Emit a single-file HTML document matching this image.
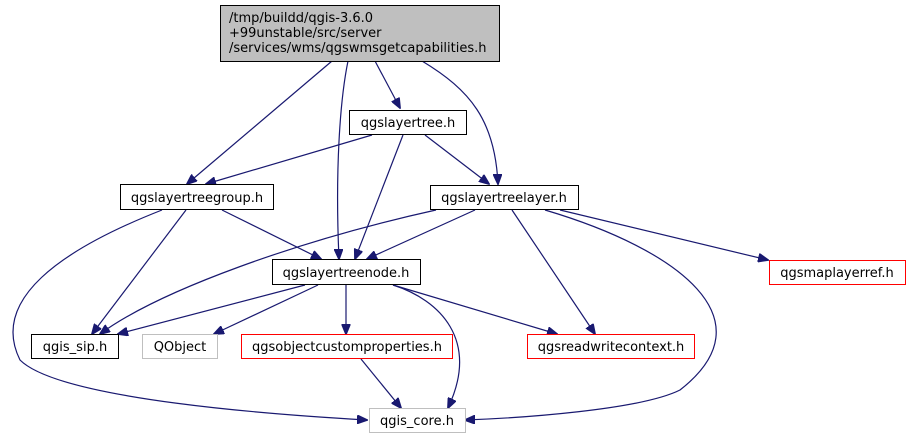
<!DOCTYPE html>
<html><head><meta charset="utf-8"><style>
html,body{margin:0;padding:0;background:#fff;width:911px;height:440px;overflow:hidden}
text{font-family:"DejaVu Sans","Liberation Sans",sans-serif;font-size:13px;fill:#000}
</style></head><body>
<svg width="911" height="440" viewBox="0 0 911 440" xmlns="http://www.w3.org/2000/svg">
<defs><marker id="a" markerWidth="11" markerHeight="9" refX="10" refY="4.5" orient="auto" markerUnits="userSpaceOnUse"><path d="M0,0 L11,4.5 L0,9 Z" fill="#191970" stroke="#191970"/></marker></defs>
<g fill="none" stroke="#191970" stroke-width="1.2" marker-end="url(#a)">
<path d="M332,61 L187,184"/>
<path d="M348,61 C340,100 335,170 339,259"/>
<path d="M375,61 L400,108"/>
<path d="M422,61 C470,90 495,120 498,184"/>
<path d="M372,135 L206,184"/>
<path d="M425,135 L489,184"/>
<path d="M403,135 L355,259"/>
<path d="M222,210 L321,259"/>
<path d="M186,210 L92,334"/>
<path d="M162,210 C60,250 -10,300 20,360 C60,400 280,415 367,420"/>
<path d="M475,210 L367,259"/>
<path d="M436,210 C300,240 160,290 100,334"/>
<path d="M512,210 L595,334"/>
<path d="M560,210 L768,260"/>
<path d="M545,210 C680,250 770,320 680,390 C640,410 520,418 465,420"/>
<path d="M305,285 L118,334"/>
<path d="M318,285 L214,334"/>
<path d="M346,285 L346,334"/>
<path d="M393,285 L557,334"/>
<path d="M393,285 C440,300 480,340 448,408"/>
<path d="M361,359 L401,408"/>
</g>
<rect x="220.5" y="5.5" width="279" height="56" fill="#bfbfbf" stroke="#000"/>
<text x="229" y="22">/tmp/buildd/qgis-3.6.0</text>
<text x="229" y="37">+99unstable/src/server</text>
<text x="229" y="52">/services/wms/qgswmsgetcapabilities.h</text>
<g fill="#fff" stroke="#000"><rect x="349.5" y="110.5" width="117" height="24"/><rect x="120.5" y="184.5" width="153" height="25"/><rect x="430.5" y="185.5" width="148" height="24"/><rect x="272.5" y="259.5" width="148" height="25"/><rect x="31.5" y="334.5" width="87" height="24"/></g>
<g fill="#fff" stroke="#ff0000"><rect x="769.5" y="260.5" width="136" height="24"/><rect x="241.5" y="334.5" width="211" height="24"/><rect x="527.5" y="334.5" width="167" height="24"/></g>
<g fill="#fff" stroke="#bfbfbf"><rect x="142.5" y="334.5" width="75" height="24"/><rect x="369.5" y="408.5" width="96" height="24"/></g>
<g text-anchor="middle">
<text x="408" y="127">qgslayertree.h</text>
<text x="197" y="202">qgslayertreegroup.h</text>
<text x="504" y="202">qgslayertreelayer.h</text>
<text x="346" y="277">qgslayertreenode.h</text>
<text x="837" y="277">qgsmaplayerref.h</text>
<text x="75" y="351">qgis_sip.h</text>
<text x="180" y="351">QObject</text>
<text x="347" y="351">qgsobjectcustomproperties.h</text>
<text x="611" y="351">qgsreadwritecontext.h</text>
<text x="417" y="425">qgis_core.h</text>
</g>
</svg>
</body></html>
